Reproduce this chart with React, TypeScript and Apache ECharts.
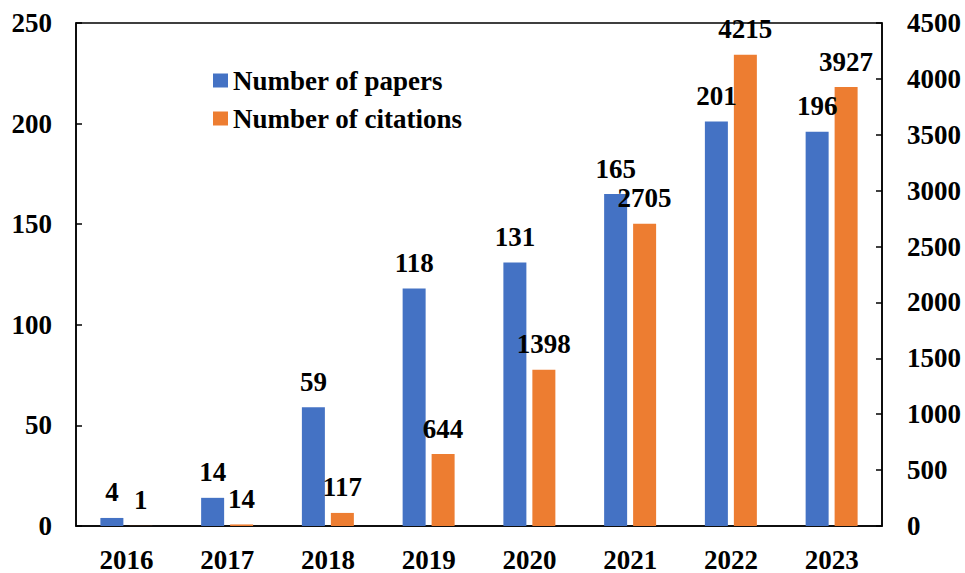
import React, { useEffect, useRef } from "react";
import * as echarts from "echarts";

const years = ["2016", "2017", "2018", "2019", "2020", "2021", "2022", "2023"];
const papers = [4, 14, 59, 118, 131, 165, 201, 196];
const citations = [1, 14, 117, 644, 1398, 2705, 4215, 3927];

const FONT = '"Liberation Serif", "Times New Roman", serif';
const FS = 27;

export default function App() {
  const ref = useRef<HTMLDivElement>(null);
  useEffect(() => {
    const chart = echarts.init(ref.current!, undefined, { renderer: "svg" });
    const labelStyle = {
      show: true,
      position: "top" as const,
      distance: 12,
      fontFamily: FONT,
      fontWeight: "bold" as const,
      fontSize: FS,
      color: "#000",
    };
    const axisLabel = (margin: number) => ({
      fontFamily: FONT,
      fontWeight: "bold" as const,
      fontSize: FS,
      color: "#000",
      margin,
      formatter: (v: number | string) => String(v),
    });
    chart.setOption({
      animation: false,
      backgroundColor: "#fff",
      grid: {
        left: 76,
        right: 83,
        top: 23,
        bottom: 44,
        show: true,
        borderColor: "#000",
        borderWidth: 1.5,
      },
      legend: {
        orient: "vertical",
        left: 208,
        top: 62,
        itemWidth: 15,
        itemHeight: 14,
        itemGap: 11,
        icon: "rect",
        textStyle: { fontFamily: FONT, fontWeight: "bold", fontSize: FS, color: "#000" },
        data: ["Number of papers", "Number of citations"],
      },
      xAxis: {
        type: "category",
        data: years,
        axisLine: { lineStyle: { color: "#000", width: 1.5 } },
        axisTick: { show: false },
        axisLabel: axisLabel(20),
      },
      yAxis: [
        {
          type: "value",
          min: 0,
          max: 250,
          interval: 50,
          splitLine: { show: false },
          axisLine: { show: true, lineStyle: { color: "#000", width: 1.5 } },
          axisTick: { show: true, inside: true, length: 6, lineStyle: { color: "#000", width: 1.5 } },
          axisLabel: axisLabel(24),
        },
        {
          type: "value",
          min: 0,
          max: 4500,
          interval: 500,
          position: "right",
          splitLine: { show: false },
          axisLine: { show: true, lineStyle: { color: "#000", width: 1.5 } },
          axisTick: { show: true, inside: true, length: 6, lineStyle: { color: "#000", width: 1.5 } },
          axisLabel: axisLabel(25),
        },
      ],
      series: [
        {
          name: "Number of papers",
          type: "bar",
          yAxisIndex: 0,
          data: papers,
          barWidth: 23,
          barGap: "26%",
          itemStyle: { color: "#4472C4" },
          label: labelStyle,
        },
        {
          name: "Number of citations",
          type: "bar",
          yAxisIndex: 1,
          data: citations,
          barWidth: 23,
          barGap: "26%",
          itemStyle: { color: "#ED7D31" },
          label: labelStyle,
        },
      ],
    });
    return () => chart.dispose();
  }, []);
  return <div ref={ref} style={{ width: 965, height: 573, position: "absolute", left: 0, top: 0 }} />;
}
